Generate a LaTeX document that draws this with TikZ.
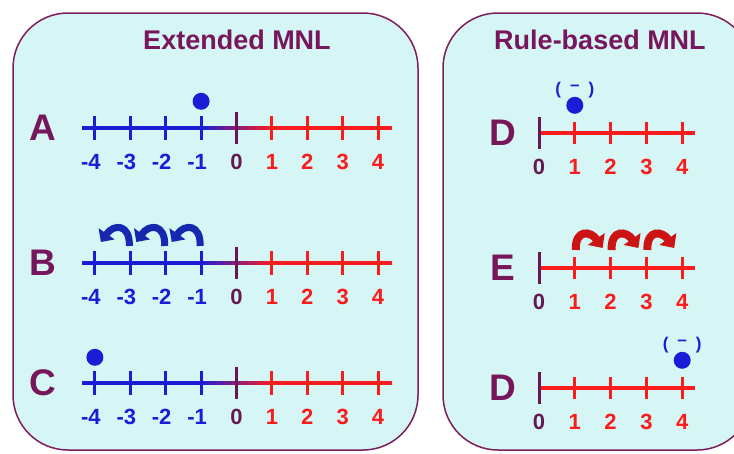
\documentclass[tikz,border=0pt]{standalone}
\usepackage{fontspec}
\setmainfont{Liberation Sans}
\usetikzlibrary{arrows.meta,positioning}
\definecolor{panelfill}{RGB}{214,246,246}
\definecolor{panelline}{RGB}{125,30,90}
\definecolor{plum}{RGB}{120,22,92}
\definecolor{lineblue}{RGB}{28,28,215}
\definecolor{linered}{RGB}{250,28,28}
\definecolor{zeropurple}{RGB}{100,25,85}
\definecolor{jumpblue}{RGB}{22,40,175}
\definecolor{jumpred}{RGB}{205,20,20}

\begin{document}
\begin{tikzpicture}[x=1pt,y=-1pt,
    panel/.style={draw=panelline, line width=1.5pt, fill=panelfill, rounded corners=55pt},
    paneltitle/.style={font=\fontsize{27}{30}\selectfont\bfseries, text=plum},
    rowname/.style={font=\fontsize{37}{40}\selectfont\bfseries, text=plum},
    num/.style={font=\fontsize{22}{24}\selectfont\bfseries, inner sep=0pt},
    tickmark/.style={line width=3pt},
    numline/.style={line width=3.6pt},
    marble/.style={circle, fill=lineblue, inner sep=0pt, minimum size=17pt},
    minus/.style={font=\fontsize{17}{18}\selectfont\bfseries, text=lineblue, inner sep=0pt},
    bjump/.style={draw=jumpblue, line width=7pt, looseness=2, -{Triangle[width=19pt,length=10pt]}},
    rjump/.style={draw=jumpred, line width=8pt, looseness=2, -{Triangle[width=20pt,length=11pt]}}]
    \clip (0,0) rectangle (734,453);

    % panels
    \draw[panel] (13,13) rectangle (418,450);
    \draw[panel] (443,13) rectangle (752,450);
    \node[paneltitle] (extT) at (237,40) {Extended MNL};
    \node[paneltitle] (ruleT) at (600,40) {Rule-based MNL};

    % extended MNL: -4 ... 4
    \foreach \row/\yy in {A/128,B/263,C/383} {
        \node[rowname] (\row name) at (43,\yy) {\row};
        \draw[numline, lineblue] (82,\yy) -- (201,\yy);
        \shade[left color=lineblue, right color=linered] (201,\yy-1.8) rectangle (272,\yy+1.8);
        \draw[numline, linered] (272,\yy) -- (392,\yy);
        \foreach \i in {-4,...,4} {
            \pgfmathsetmacro\xx{236.5+35.4*\i}
            \ifnum\i<0 \def\tcol{lineblue}\def\dx{-4pt}\else\ifnum\i=0 \def\tcol{zeropurple}\def\dx{0pt}\else\def\tcol{linered}\def\dx{0pt}\fi\fi
            \coordinate (\row t\i) at (\xx,\yy);
            \ifnum\i=0
                \draw[tickmark, zeropurple] (\xx,\yy-16) -- (\xx,\yy+16);
            \else
                \draw[tickmark, \tcol] (\xx,\yy-12) -- (\xx,\yy+12);
            \fi
            \node[num, text=\tcol, below=26pt of \row t\i, xshift=\dx] (\row l\i) {\i};
        }
    }
    \node[marble, above=18pt of At-1] (Adot) {};
    \node[marble, above=17pt of Ct-4] (Cdot) {};
    \foreach \a/\b in {-1/-2,-2/-3,-3/-4}
        \draw[bjump] ([shift={(-1pt,17pt)}]Bt\a) to[out=88,in=55] ([shift={(6pt,21pt)}]Bt\b);

    % rule-based MNL: 0 ... 4
    \foreach \row/\lab/\yy in {D/D/133,E/E/268,F/D/388} {
        \node[rowname] (\row name) at (503,\yy) {\lab};
        \draw[numline, linered] (539,\yy) -- (695,\yy);
        \foreach \i in {0,...,4} {
            \pgfmathsetmacro\xx{539+35.8*\i}
            \coordinate (\row t\i) at (\xx,\yy);
            \ifnum\i=0
                \def\tcol{zeropurple}
                \draw[tickmark, zeropurple] (\xx,\yy-16) -- (\xx,\yy+16);
            \else
                \def\tcol{linered}
                \draw[tickmark, linered] (\xx,\yy-11) -- (\xx,\yy+11);
            \fi
            \node[num, text=\tcol, below=26pt of \row t\i] (\row l\i) {\i};
        }
    }
    \node[marble, above=19pt of Dt1] (Ddot) {};
    \node[minus] (Dbr) at ([yshift=15pt]Ddot) {(\hspace{9pt}\raisebox{4pt}{--}\hspace{9pt})};
    \node[marble, above=19pt of Ft4] (Fdot) {};
    \node[minus] (Fbr) at ([yshift=15pt]Fdot) {(\hspace{9pt}\raisebox{4pt}{--}\hspace{9pt})};
    \foreach \a/\b in {1/2,2/3,3/4}
        \draw[rjump] ([shift={(1pt,18pt)}]Et\a) to[out=92,in=125] ([shift={(-8pt,20pt)}]Et\b);
\end{tikzpicture}
\end{document}
